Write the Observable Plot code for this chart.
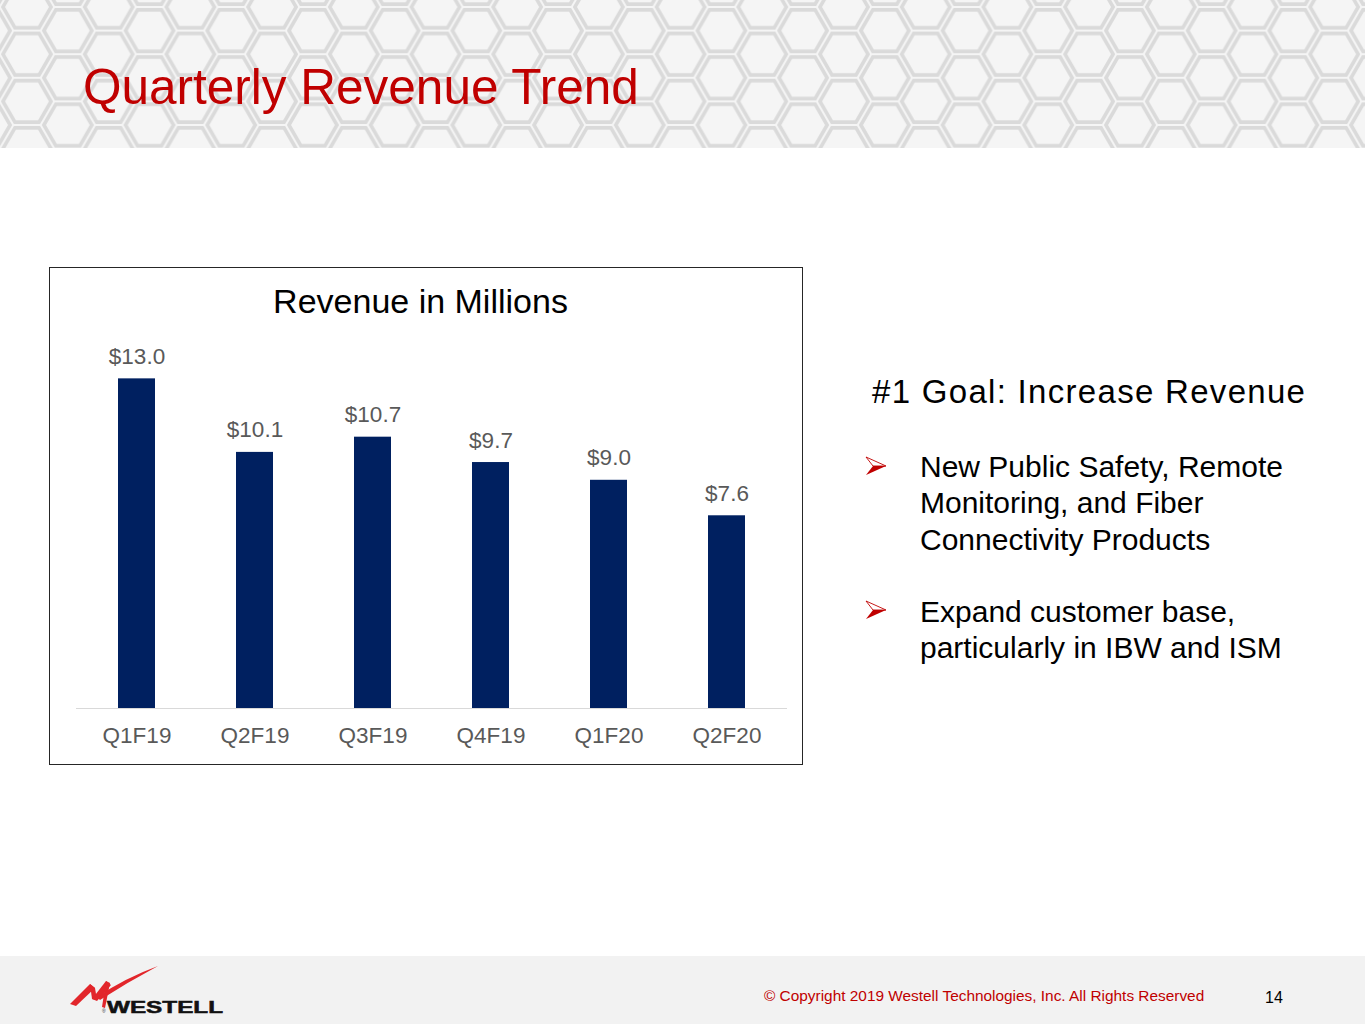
<!DOCTYPE html>
<html>
<head>
<meta charset="utf-8">
<script src="https://cdn.jsdelivr.net/npm/d3@7"></script>
<script src="https://cdn.jsdelivr.net/npm/@observablehq/plot@0.6"></script>
<style>
  html, body { margin: 0; padding: 0; }
  body { width: 1365px; height: 1024px; position: relative; overflow: hidden; background: #ffffff;
         font-family: "Liberation Sans", Arial, Helvetica, sans-serif; }
  .t { position: absolute; line-height: 1; white-space: nowrap; }
  #deco { position: absolute; left: 0; top: 0; }
  #chartbox { position: absolute; left: 49px; top: 267px; width: 754px; height: 498px;
              box-sizing: border-box; border: 1px solid #262626; }
  #plot { position: absolute; left: 49px; top: 267px; width: 754px; height: 498px; }
</style>
</head>
<body>
<svg id="deco" width="1365" height="1024" viewBox="0 0 1365 1024">
  <defs>
    <pattern id="hex" patternUnits="userSpaceOnUse" x="27" y="7" width="81.7" height="47.2">
      <g fill="none" stroke="#dadada" stroke-width="3.6">
        <polygon points="24,0 12,20.8 -12,20.8 -24,0 -12,-20.8 12,-20.8" transform="translate(0,0)"/>
        <polygon points="24,0 12,20.8 -12,20.8 -24,0 -12,-20.8 12,-20.8" transform="translate(81.7,0)"/>
        <polygon points="24,0 12,20.8 -12,20.8 -24,0 -12,-20.8 12,-20.8" transform="translate(0,47.2)"/>
        <polygon points="24,0 12,20.8 -12,20.8 -24,0 -12,-20.8 12,-20.8" transform="translate(81.7,47.2)"/>
        <polygon points="24,0 12,20.8 -12,20.8 -24,0 -12,-20.8 12,-20.8" transform="translate(40.85,23.6)"/>
      </g>
    </pattern>
  </defs>
  <rect x="0" y="0" width="1365" height="148" fill="#f5f5f5"/>
  <rect x="0" y="0" width="1365" height="148" fill="url(#hex)"/>
  <!-- footer band -->
  <rect x="0" y="956" width="1365" height="68" fill="#f2f2f2"/>
  <!-- logo swoosh -->
  <g fill="#e2262b">
    <path d="M70,1004 L76,1006 L95,988 L90,984 Z"/>
    <path d="M90,984 L95,988 L97,1000 L92,999 Z"/>
    <path d="M92,999 L97,1001 L111,985 L106,981 Z"/>
    <path d="M106,981 L110,983 L105,1008 L102,1007 Z"/>
    <path d="M97,997 Q125,978 158,966 Q128,982 100,1000 Z"/>
  </g>
  <text x="102" y="1013" font-size="5" fill="#333" font-family="Liberation Sans, Arial">®</text>
  <text x="107" y="1013" font-size="16" font-weight="bold" fill="#111" stroke="#111" stroke-width="0.5" textLength="116" lengthAdjust="spacingAndGlyphs" font-family="Liberation Sans, Arial">WESTELL</text>
  <!-- bullet arrows -->
  <g>
    <polygon points="866,457 886,466 873,466" fill="#ffffff" stroke="#c00000" stroke-width="0.9"/>
    <polygon points="873,466 886,466 866,475" fill="#c00000"/>
    <polygon points="866,601 886,610 873,610" fill="#ffffff" stroke="#c00000" stroke-width="0.9"/>
    <polygon points="873,610 886,610 866,619" fill="#c00000"/>
  </g>
</svg>

<div class="t" style="left:83px; top:62.2px; font-size:49.5px; color:#c00000;">Quarterly Revenue Trend</div>

<div id="chartbox"></div>
<div id="plot"></div>
<div class="t" style="left:420.5px; top:284.2px; font-size:34px; color:#000; transform:translateX(-50%);">Revenue in Millions</div>

<div class="t" style="left:872px; top:375px; font-size:33px; letter-spacing:1.3px; color:#000;">#1 Goal: Increase Revenue</div>
<div class="t" style="left:920px; top:451.6px; font-size:30px; color:#000;">New Public Safety, Remote</div>
<div class="t" style="left:920px; top:488.1px; font-size:30px; color:#000;">Monitoring, and Fiber</div>
<div class="t" style="left:920px; top:524.6px; font-size:30px; color:#000;">Connectivity Products</div>
<div class="t" style="left:920px; top:596.6px; font-size:30px; color:#000;">Expand customer base,</div>
<div class="t" style="left:920px; top:632.6px; font-size:30px; color:#000;">particularly in IBW and ISM</div>

<div class="t" style="left:764px; top:988px; font-size:15.4px; color:#c00000;">© Copyright 2019 Westell Technologies, Inc. All Rights Reserved</div>
<div class="t" style="left:1265px; top:989.5px; font-size:16px; color:#000;">14</div>

<script>
const quarters = ["Q1F19", "Q2F19", "Q3F19", "Q4F19", "Q1F20", "Q2F20"];
const revenue = [13.0, 10.1, 10.7, 9.7, 9.0, 7.6];

const data = quarters.map((q, i) => ({q, v: revenue[i]}));

const chart = Plot.plot({
  width: 754,
  height: 498,
  marginLeft: 27,
  marginRight: 16,
  marginTop: 86,
  marginBottom: 57,
  x: {domain: quarters, paddingInner: 0.688, paddingOuter: 0.344},
  y: {domain: [0, 14], axis: null},
  style: {fontFamily: "Liberation Sans, Arial, sans-serif", background: "transparent", overflow: "visible"},
  marks: [
    Plot.ruleY([0], {stroke: "#d9d9d9", strokeWidth: 1}),
    Plot.barY(data, {x: "q", y: "v", fill: "#002060"}),
    Plot.text(data, {x: "q", y: "v", text: d => "$" + d.v.toFixed(1), dy: -15, lineAnchor: "bottom",
                     fontSize: 22.5, fill: "#595959"}),
    Plot.axisX({tickSize: 0, tickPadding: 19, fontSize: 22.5, fill: "#595959", color: "#595959", label: null})
  ]
});
document.getElementById("plot").appendChild(chart);
</script>
</body>
</html>
